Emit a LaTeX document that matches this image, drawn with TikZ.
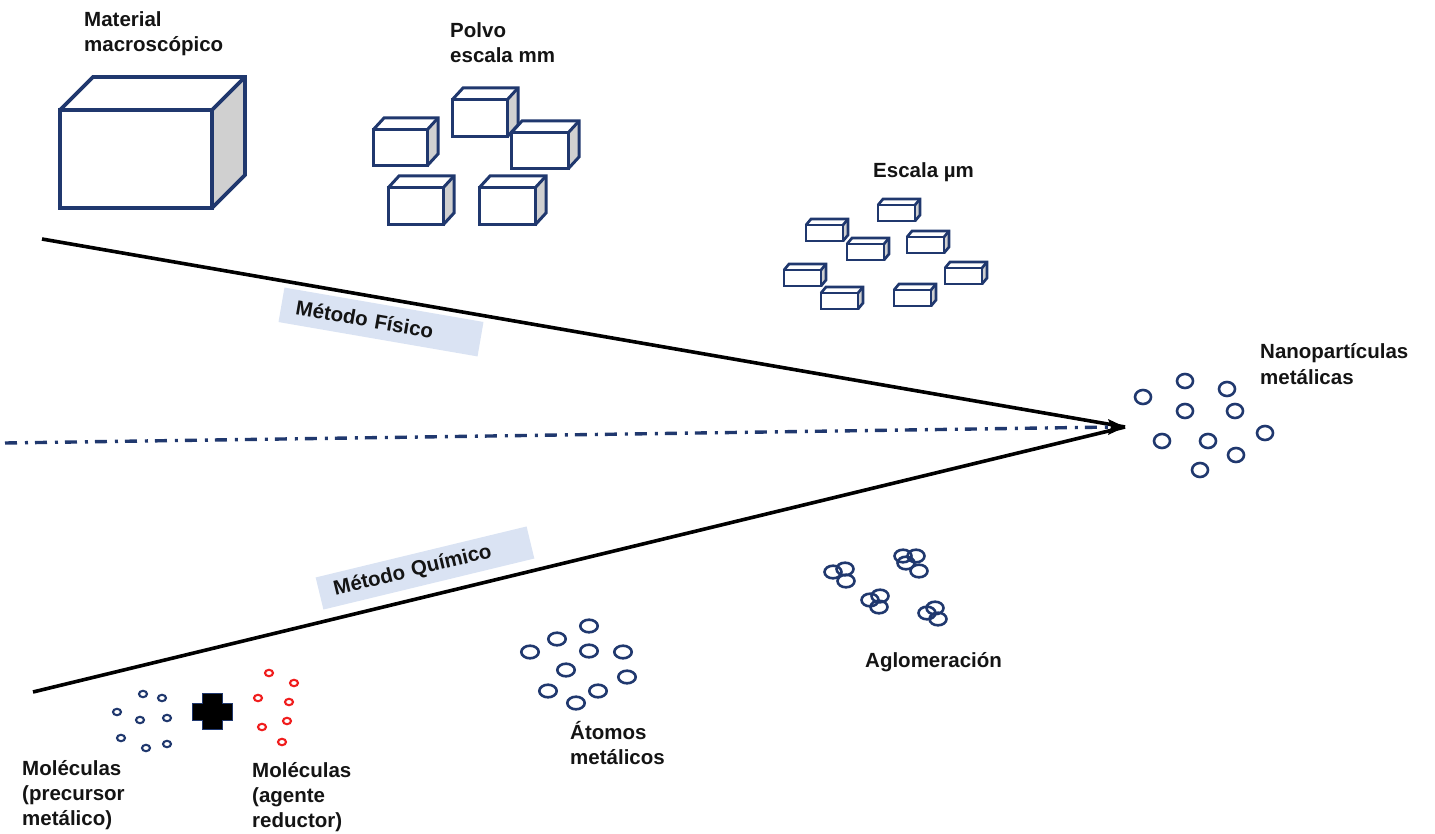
\documentclass[tikz,border=0pt]{standalone}
\usepackage{fontspec}
\setmainfont{Liberation Sans}
\usetikzlibrary{arrows.meta}
\definecolor{navy}{RGB}{32,56,110}
\definecolor{sidegray}{RGB}{208,208,208}
\definecolor{lblue}{RGB}{218,227,243}
\definecolor{redmol}{RGB}{240,30,30}
\definecolor{txtc}{RGB}{20,20,20}
% cuboid: [style] x y w h dx dy  (x,y = top-left of front face)
\newcommand\mycube[7][]{%
  \fill[sidegray] (#2+#4,#3) -- ++(#6,-#7) -- ++(0,#5) -- (#2+#4,#3+#5) -- cycle;
  \draw[cubeline,#1] (#2,#3) rectangle ++(#4,#5);
  \draw[cubeline,#1] (#2,#3) -- ++(#6,-#7) -- ++(#4,0) -- ++(0,#5) -- (#2+#4,#3+#5);
  \draw[cubeline,#1] (#2+#4,#3) -- ++(#6,-#7);
}
\begin{document}
\begin{tikzpicture}[x=1pt,y=-1pt,
  cubeline/.style={draw=navy,line width=3pt,line join=miter},
  txt/.style={font=\fontsize{20.5}{25}\selectfont\bfseries,text=txtc,align=left,inner sep=0pt,anchor=base west},
  lbl/.style={fill=lblue,font=\fontsize{20.5}{25}\selectfont\bfseries,text=txtc,
    text width=172pt,inner xsep=15pt,inner ysep=0pt,minimum height=35pt,align=left},
  nano/.style={draw=navy,line width=2.6pt},
  mol/.style={draw=navy,line width=2.1pt},
  redm/.style={draw=redmol,line width=2.1pt},
  mainline/.style={draw=black,line width=3.6pt},
]
\useasboundingbox (0,0) rectangle (1435,834);

% ---------- main lines ----------
\coordinate (tip) at (1125,427);
\coordinate (topstart) at (42,239);
\coordinate (botstart) at (33,692);
\coordinate (axstart) at (5,443);
\draw[mainline] (topstart) -- (tip);
\draw[mainline] (botstart) -- (tip);
\draw[navy,line width=3.4pt,dash pattern=on 12pt off 8pt on 3pt off 7pt] (axstart) -- ([xshift=-12pt]tip);
% arrow head at the tip
\fill[black] (tip) -- ++(-17,-8) -- ++(3,8) -- ++(-3,8) -- cycle;

% ---------- labels on lines ----------
\node[lbl,rotate=-9.8] (fisico) at (381,322) {Método Físico};
\node[lbl,rotate=13.6,text width=187pt,minimum height=33pt] (quimico) at (425,568) {Método Químico};

% ---------- macroscopic cube ----------
\mycube[line width=3.8pt]{60}{110}{152}{98}{33}{33}
\node[txt] (macro) at (84,52) {Material\\macroscópico};

% ---------- mm powder ----------
\mycube{452}{100}{55}{37}{11}{12}
\mycube{373}{130}{54}{36}{11}{12}
\mycube{511}{133}{57}{36}{11}{12}
\mycube{388}{188}{55}{37}{11}{12}
\mycube{479}{188}{56}{37}{11}{12}
\node[txt] (polvo) at (450,63) {Polvo\\escala mm};

% ---------- micrometre scale ----------
\foreach \x/\y in {878/205, 806/225, 907/237, 847/244, 784/270, 945/268, 821/293, 894/290}
  \mycube[line width=2.7pt]{\x}{\y}{37}{16}{5}{6};
\node[txt] (micro) at (873,178) {Escala µm};

% ---------- nanoparticles ----------
\foreach \x/\y in {1143/397, 1185/381, 1227/389, 1185/411, 1235/411, 1265/433,
                   1162/441, 1208/441, 1236/455, 1200/470}
  \draw[nano] (\x,\y) ellipse [x radius=8, y radius=7];
\node[txt] (nano) at (1260,384) {Nanopartículas\\metálicas};

% ---------- molecules ----------
\foreach \x/\y in {143/694, 162/698, 117/712, 140/720, 167/718, 121/738, 146/748, 167/744}
  \draw[mol] (\x,\y) ellipse [x radius=4, y radius=3.2];
\foreach \x/\y in {269/673, 294/683, 258/698, 289/702, 287/721, 262/727, 282/742}
  \draw[redm] (\x,\y) ellipse [x radius=4, y radius=3.2];
\draw[fill=black,draw=navy,line width=1pt]
  (202,693) -- (222,693) -- (222,703) -- (232,703) -- (232,720) -- (222,720)
  -- (222,729) -- (202,729) -- (202,720) -- (192,720) -- (192,703) -- (202,703) -- cycle;
\node[txt] (molprec) at (22,825) {Moléculas\\(precursor\\metálico)};
\node[txt] (molred) at (252,827) {Moléculas\\(agente\\reductor)};

% ---------- atoms ----------
\foreach \x/\y in {589/626, 557/639, 530/652, 589/651, 623/652, 566/670, 627/677,
                   548/691, 598/691, 576/703}
  \draw[nano] (\x,\y) ellipse [x radius=8.7, y radius=6.3];
\node[txt] (atomos) at (570,764) {Átomos\\metálicos};

% ---------- agglomeration ----------
\foreach \x/\y in {833/572, 845/569, 846/581,
                   903/556, 916/556, 906/563, 919/571,
                   870/600, 880/596, 879/607,
                   927/613, 935/608, 938/619}
  \draw[nano] (\x,\y) ellipse [x radius=8.5, y radius=6.3];
\node[txt] (aglo) at (865,667) {Aglomeración};
\end{tikzpicture}
\end{document}
